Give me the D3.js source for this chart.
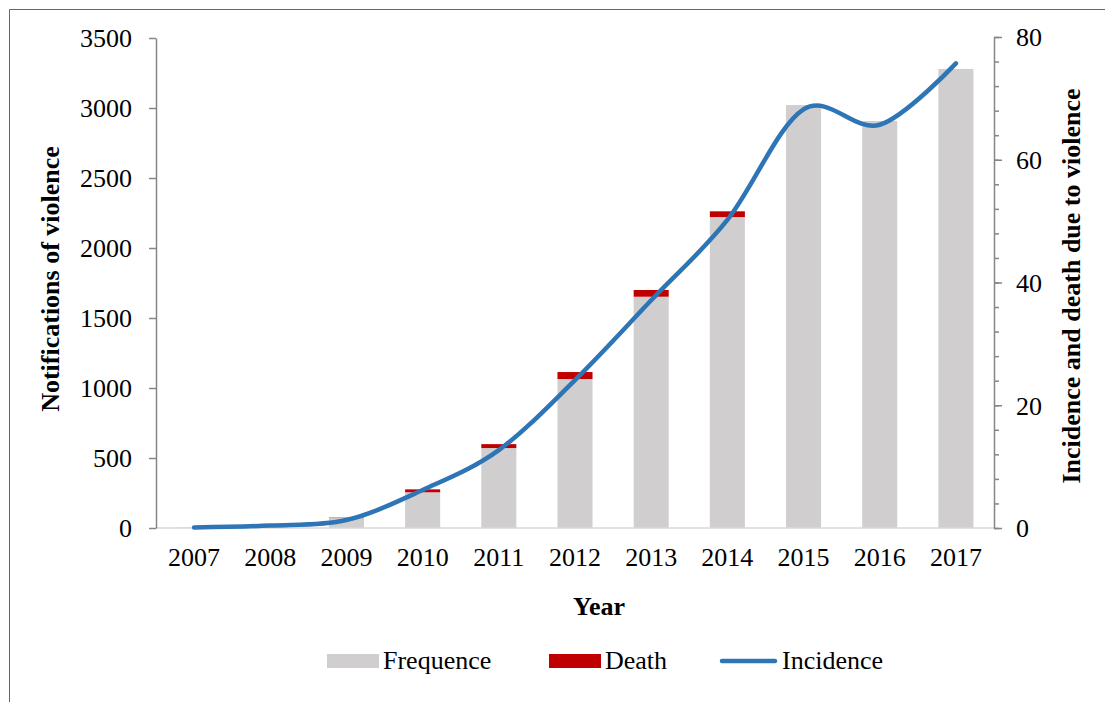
<!DOCTYPE html>
<html>
<head>
<meta charset="utf-8">
<script src="https://cdn.jsdelivr.net/npm/d3@7"></script>
<style>
  body { margin: 0; background: #fff; }
  text { font-family: "Liberation Serif", "Times New Roman", serif; fill: #000; }
</style>
</head>
<body>
<svg id="chart" width="1105" height="702"></svg>
<script>
// Values
const years = ['2007', '2008', '2009', '2010', '2011', '2012', '2013', '2014', '2015', '2016', '2017']
const frequence = [4, 12, 71, 255, 571, 1064, 1652, 2221, 3021, 2907, 3279]
const death = [0, 0, 3, 21, 28, 50, 48, 41, 0, 0, 0]
const incidence = [0.1, 0.4, 1.3, 6.2, 12.7, 24.1, 37.1, 50.2, 68.2, 65.7, 75.7]
const leftTicks = [0, 500, 1000, 1500, 2000, 2500, 3000, 3500]
const rightTicks = [0, 20, 40, 60, 80]

const svg = d3.select('#chart')
const plotLeft = 156, plotRight = 994, plotTop = 38, plotBottom = 528
const serif = '"Liberation Serif", "Times New Roman", serif'

// Outer frame (top and left edges only visible)
svg.append('path')
  .attr('d', `M9.5,702 L9.5,9.5 L1105,9.5`)
  .attr('fill', 'none').attr('stroke', '#666').attr('stroke-width', 1)

const x = d3.scaleBand().domain(years).range([plotLeft, plotRight]).paddingInner(0.54).paddingOuter(0.27)
const yL = d3.scaleLinear().domain([0, 3500]).range([plotBottom, plotTop])
const yR = d3.scaleLinear().domain([0, 80]).range([plotBottom, plotTop - 1])

// Bars: frequence with death stacked on top
const g = svg.append('g')
g.selectAll('rect.freq').data(years).enter().append('rect')
  .attr('class', 'freq')
  .attr('x', d => x(d)).attr('width', x.bandwidth())
  .attr('y', (d, i) => yL(frequence[i]))
  .attr('height', (d, i) => plotBottom - yL(frequence[i]))
  .attr('fill', '#d0cece')
g.selectAll('rect.death').data(years).enter().append('rect')
  .attr('class', 'death')
  .attr('x', d => x(d)).attr('width', x.bandwidth())
  .attr('y', (d, i) => yL(frequence[i] + death[i]))
  .attr('height', (d, i) => yL(frequence[i]) - yL(frequence[i] + death[i]))
  .attr('fill', '#c00000')

// Category baseline
svg.append('line')
  .attr('x1', plotLeft).attr('x2', plotRight).attr('y1', plotBottom).attr('y2', plotBottom)
  .attr('stroke', '#d9d9d9').attr('stroke-width', 1.5)

// Left axis
const axL = svg.append('g').attr('transform', `translate(${plotLeft},0)`)
  .call(d3.axisLeft(yL).tickValues(leftTicks).tickFormat(d3.format('d'))
    .tickSize(7).tickPadding(17).tickSizeOuter(0))
  .attr('font-family', serif).attr('font-size', 26)
axL.select('.domain').attr('stroke', '#868686').attr('stroke-width', 1.5)
axL.selectAll('.tick line').attr('stroke', '#868686').attr('stroke-width', 1.5)
axL.selectAll('.tick text').attr('dy', '0.34em')

// Right axis: minor ticks every 4, labelled ticks every 20
const axR = svg.append('g').attr('transform', `translate(${plotRight},0)`)
axR.call(d3.axisRight(yR).tickValues(d3.range(0, 81, 4)).tickSize(5).tickFormat('').tickSizeOuter(0))
axR.select('.domain').attr('stroke', '#868686').attr('stroke-width', 1.5)
axR.selectAll('.tick line').attr('stroke', '#868686').attr('stroke-width', 1.5)
const axR2 = svg.append('g').attr('transform', `translate(${plotRight},0)`)
  .call(d3.axisRight(yR).tickValues(rightTicks).tickSize(8).tickPadding(14).tickSizeOuter(0))
  .attr('font-family', serif).attr('font-size', 26)
axR2.select('.domain').remove()
axR2.selectAll('.tick line').attr('stroke', '#868686').attr('stroke-width', 1.5)
axR2.selectAll('.tick text').attr('dy', '0.34em')

// Bottom category labels
const axB = svg.append('g').attr('transform', `translate(0,${plotBottom})`)
  .call(d3.axisBottom(x).tickSize(0).tickPadding(20))
  .attr('font-family', serif).attr('font-size', 26)
axB.select('.domain').remove()

// Incidence line (smoothed)
const line = d3.line()
  .x((d, i) => x(years[i]) + x.bandwidth() / 2)
  .y(d => yR(d))
  .curve(d3.curveCatmullRom.alpha(0))
svg.append('path')
  .datum(incidence)
  .attr('d', line)
  .attr('fill', 'none')
  .attr('stroke', '#2e75b6')
  .attr('stroke-width', 4.5)
  .attr('stroke-linecap', 'round')

// Axis titles
svg.append('text')
  .attr('transform', 'translate(59,279) rotate(-90)')
  .attr('text-anchor', 'middle')
  .style('font-size', '26px').style('font-weight', 'bold')
  .text('Notifications of violence')
svg.append('text')
  .attr('transform', 'translate(1080,286) rotate(-90)')
  .attr('text-anchor', 'middle')
  .style('font-size', '26px').style('font-weight', 'bold')
  .text('Incidence and death due to violence')
svg.append('text')
  .attr('x', 599).attr('y', 615)
  .attr('text-anchor', 'middle')
  .style('font-size', '26px').style('font-weight', 'bold')
  .text('Year')

// Legend
const legend = svg.append('g')
legend.append('rect').attr('x', 327).attr('y', 654).attr('width', 52).attr('height', 14).attr('fill', '#d0cece')
legend.append('text').attr('x', 383).attr('y', 669).style('font-size', '26px').text('Frequence')
legend.append('rect').attr('x', 549).attr('y', 654).attr('width', 52).attr('height', 14).attr('fill', '#c00000')
legend.append('text').attr('x', 605).attr('y', 669).style('font-size', '26px').text('Death')
legend.append('line').attr('x1', 722).attr('x2', 775).attr('y1', 661).attr('y2', 661)
  .attr('stroke', '#2e75b6').attr('stroke-width', 4.5).attr('stroke-linecap', 'round')
legend.append('text').attr('x', 782).attr('y', 669).style('font-size', '26px').text('Incidence')
</script>
</body>
</html>
